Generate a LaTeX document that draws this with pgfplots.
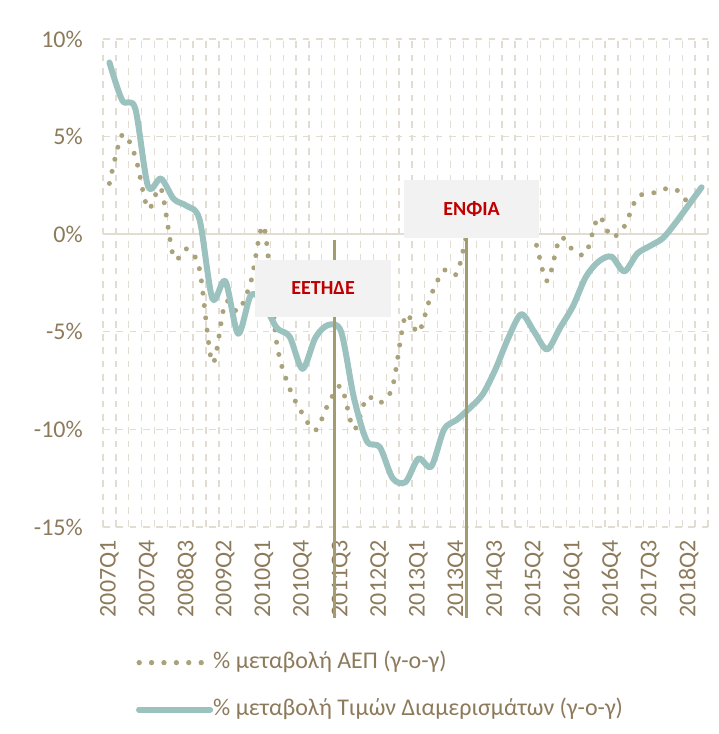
\documentclass[border=0pt]{standalone}
\usepackage{fontspec}
\setmainfont{Carlito}
\usepackage{pgfplots}
\pgfplotsset{compat=1.18}
\definecolor{tealc}{HTML}{9BC2BE}
\definecolor{gdpc}{HTML}{A9A27B}
\definecolor{mline}{HTML}{A39C70}
\definecolor{txt}{HTML}{8C7A5B}
\definecolor{gridc}{HTML}{E2DDD3}
\definecolor{boxg}{HTML}{F2F2F2}
\definecolor{boxr}{HTML}{C00000}
\begin{document}
\begin{tikzpicture}
\begin{axis}[
  scale only axis, width=605pt, height=488pt,
  xmin=-0.5, xmax=46.5, ymin=-15, ymax=10,
  axis line style={draw=none},
  xtick={0,3,...,45},
  xticklabels={2007Q1,2007Q4,2008Q3,2009Q2,2010Q1,2010Q4,2011Q3,2012Q2,2013Q1,2013Q4,2014Q3,2015Q2,2016Q1,2016Q4,2017Q3,2018Q2},
  minor xtick={-0.5,0.5,...,46.5},
  ytick={-15,-10,-5,0,5,10},
  yticklabels={-15\%,-10\%,-5\%,0\%,5\%,10\%},
  major tick length=0pt, minor tick length=0pt,
  xmajorgrids=false, xminorgrids=true, ymajorgrids=true,
  major grid style={gridc, line width=1.3pt, dash pattern=on 6.7pt off 6.6pt},
  minor grid style={gridc, line width=1.3pt, dash pattern=on 6.7pt off 6.6pt},
  tick label style={font=\fontsize{24}{28}\selectfont, text=txt, inner sep=0pt},
  x tick label style={rotate=90, anchor=east},
  xticklabel shift=13pt,
  y tick label style={anchor=east},
  yticklabel shift=20pt,
  clip=false,
  legend image code/.code={\draw[#1] (0pt,0pt) -- (62pt,0pt); \path (0pt,0pt) -- (71pt,0pt);},
  legend style={at={(axis description cs:0.0545,-0.254)}, anchor=north west, draw=none, fill=none,
    font=\fontsize{24}{28}\selectfont, text=txt, row sep=24pt, inner sep=0pt,
    nodes={inner sep=0pt, text height=17pt, text depth=6pt}},
  legend cell align=left,
]
\draw[gridc, line width=1.8pt] (axis cs:-0.5,0) -- (axis cs:46.5,0);
\addplot[gdpc, line width=5pt, line cap=round, dash pattern=on 0pt off 12.4pt, smooth, mark=none] coordinates {
(0,2.6)(1,5.1)(2,4.0)(3,1.3)(4,2.35)(5,-1.2)(6,-0.75)(7,-1.8)(8,-6.6)(9,-3.5)(10,-3.95)(11,-2.4)(12,0.4)(13,-5.6)(14,-7.9)(15,-9.2)(16,-10.05)(17,-8.7)(18,-7.8)(19,-10.0)(20,-8.35)(21,-8.65)(22,-7.8)(23,-4.15)(24,-5.05)(25,-3.1)(26,-1.85)(27,-2.0)(28,0.5)(29,0.8)(30,1.1)(31,0.8)(32,0.4)(33,-0.2)(34,-2.4)(35,-0.2)(36,-0.8)(37,-1.0)(38,0.9)(39,-0.15)(40,0.4)(41,1.9)(42,2.05)(43,2.3)(44,2.3)(45,1.55)
};
\addlegendentry{\% μεταβολή ΑΕΠ (γ-ο-γ)}
\addplot[tealc, line width=6pt, line cap=round, line join=round, smooth, mark=none] coordinates {
(0,8.8)(1,6.85)(2,6.45)(3,2.45)(4,2.85)(5,1.8)(6,1.45)(7,0.75)(8,-3.3)(9,-2.4)(10,-5.1)(11,-3.1)(12,-3.6)(13,-4.8)(14,-5.25)(15,-6.9)(16,-5.3)(17,-4.65)(18,-5.0)(19,-8.4)(20,-10.6)(21,-10.9)(22,-12.5)(23,-12.7)(24,-11.5)(25,-11.9)(26,-10.0)(27,-9.5)(28,-8.9)(29,-8.2)(30,-6.9)(31,-5.3)(32,-4.1)(33,-5.0)(34,-5.9)(35,-4.8)(36,-3.7)(37,-2.2)(38,-1.4)(39,-1.15)(40,-1.9)(41,-1.0)(42,-0.6)(43,-0.2)(44,0.6)(45,1.5)(46,2.4)
};
\addlegendentry{\% μεταβολή Τιμών Διαμερισμάτων (γ-ο-γ)}
\draw[mline, line width=3pt] (axis cs:17.47,-0.3) -- (axis cs:17.47,-19.66);
\draw[mline, line width=3pt] (axis cs:27.76,-0.19) -- (axis cs:27.76,-19.66);
\fill[boxg] (axis cs:11.31,-1.32) rectangle (axis cs:21.88,-4.24);
\node[text=boxr, font=\fontsize{20}{24}\selectfont\bfseries] at (axis cs:16.6,-2.78) {ΕΕΤΗΔΕ};
\fill[boxg] (axis cs:22.89,2.78) rectangle (axis cs:33.38,-0.19);
\node[text=boxr, font=\fontsize{20}{24}\selectfont\bfseries] at (axis cs:28.135,1.3) {ΕΝΦΙΑ};
\end{axis}
\pgfresetboundingbox
\path[use as bounding box] (-103pt,-207pt) rectangle (615pt,527pt);
\end{tikzpicture}
\end{document}
